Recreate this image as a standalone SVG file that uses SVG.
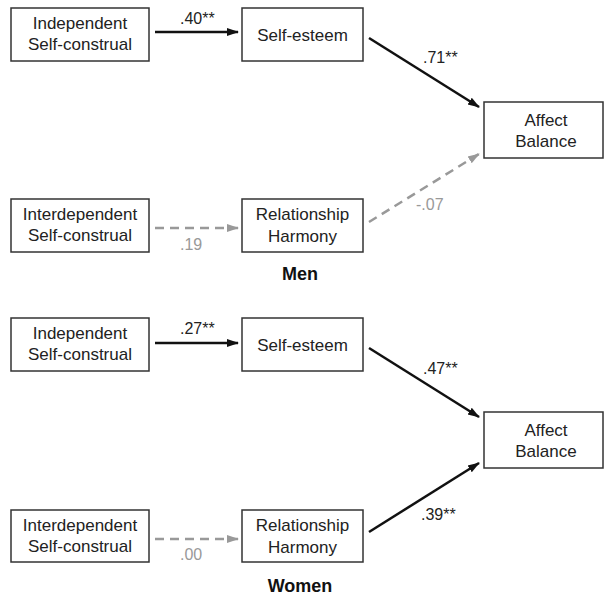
<svg xmlns="http://www.w3.org/2000/svg" width="604" height="597" viewBox="0 0 604 597">
<style>
.box{fill:#fff;stroke:#333;stroke-width:1.5}
.t{font-family:"Liberation Sans",Arial,sans-serif;font-size:17px;fill:#222;text-anchor:middle}
.lbl{font-family:"Liberation Sans",Arial,sans-serif;font-size:16px;fill:#222}
.lg{font-family:"Liberation Sans",Arial,sans-serif;font-size:16px;fill:#999}
.title{font-family:"Liberation Sans",Arial,sans-serif;font-size:18px;font-weight:bold;fill:#111;text-anchor:middle}
.solid{stroke:#111;stroke-width:2.5;fill:none;marker-end:url(#ah)}
.dash{stroke:#999;stroke-width:2.5;fill:none;stroke-dasharray:9 6;marker-end:url(#ahg)}
</style>
<defs>
<marker id="ah" markerUnits="userSpaceOnUse" markerWidth="12" markerHeight="10" refX="11" refY="5" orient="auto">
<path d="M0,1 L12,5 L0,9 Z" fill="#111"/>
</marker>
<marker id="ahg" markerUnits="userSpaceOnUse" markerWidth="12" markerHeight="10" refX="11" refY="5" orient="auto">
<path d="M0,1 L12,5 L0,9 Z" fill="#999"/>
</marker>
</defs>
<rect width="604" height="597" fill="#fff"/>

<g id="connectors">
<line class="solid" x1="155" y1="32" x2="238" y2="32"/>
<line class="solid" x1="369" y1="38" x2="479" y2="107"/>
<line class="dash" x1="155" y1="228" x2="238" y2="228"/>
<line class="dash" x1="369" y1="222" x2="479" y2="154"/>
<line class="solid" x1="155" y1="343" x2="238" y2="343"/>
<line class="solid" x1="369" y1="348" x2="479" y2="417"/>
<line class="dash" x1="155" y1="539" x2="238" y2="539"/>
<line class="solid" x1="369" y1="532" x2="479" y2="463"/>
<text class="lbl" x="180" y="24">.40**</text>
<text class="lbl" x="423" y="63">.71**</text>
<text class="lg" x="180" y="250">.19</text>
<text class="lg" x="416" y="210">-.07</text>
<text class="lbl" x="180" y="334">.27**</text>
<text class="lbl" x="423" y="374">.47**</text>
<text class="lg" x="180" y="560">.00</text>
<text class="lbl" x="421" y="520">.39**</text>
</g>

<g id="men-independent">
<rect class="box" x="11" y="8" width="138" height="53"/>
<text class="t" x="80" y="29">Independent</text>
<text class="t" x="80" y="50">Self-construal</text>
</g>
<g id="men-selfesteem">
<rect class="box" x="242" y="8" width="121" height="53"/>
<text class="t" x="302.5" y="41">Self-esteem</text>
</g>
<g id="men-affect">
<rect class="box" x="484" y="102" width="119" height="56"/>
<text class="t" x="546" y="126">Affect</text>
<text class="t" x="546" y="147">Balance</text>
</g>
<g id="men-interdependent">
<rect class="box" x="11" y="199" width="138" height="53"/>
<text class="t" x="80" y="220">Interdependent</text>
<text class="t" x="80" y="241">Self-construal</text>
</g>
<g id="men-harmony">
<rect class="box" x="242" y="199" width="121" height="53"/>
<text class="t" x="302.5" y="220">Relationship</text>
<text class="t" x="302.5" y="242">Harmony</text>
</g>
<text class="title" x="300" y="280">Men</text>

<g id="women-independent">
<rect class="box" x="11" y="318" width="138" height="53"/>
<text class="t" x="80" y="339">Independent</text>
<text class="t" x="80" y="360">Self-construal</text>
</g>
<g id="women-selfesteem">
<rect class="box" x="242" y="318" width="121" height="53"/>
<text class="t" x="302.5" y="351">Self-esteem</text>
</g>
<g id="women-affect">
<rect class="box" x="484" y="412" width="119" height="56"/>
<text class="t" x="546" y="436">Affect</text>
<text class="t" x="546" y="457">Balance</text>
</g>
<g id="women-interdependent">
<rect class="box" x="11" y="510" width="138" height="52"/>
<text class="t" x="80" y="531">Interdependent</text>
<text class="t" x="80" y="552">Self-construal</text>
</g>
<g id="women-harmony">
<rect class="box" x="242" y="510" width="121" height="52"/>
<text class="t" x="302.5" y="531">Relationship</text>
<text class="t" x="302.5" y="553">Harmony</text>
</g>
<text class="title" x="300" y="592">Women</text>
</svg>
